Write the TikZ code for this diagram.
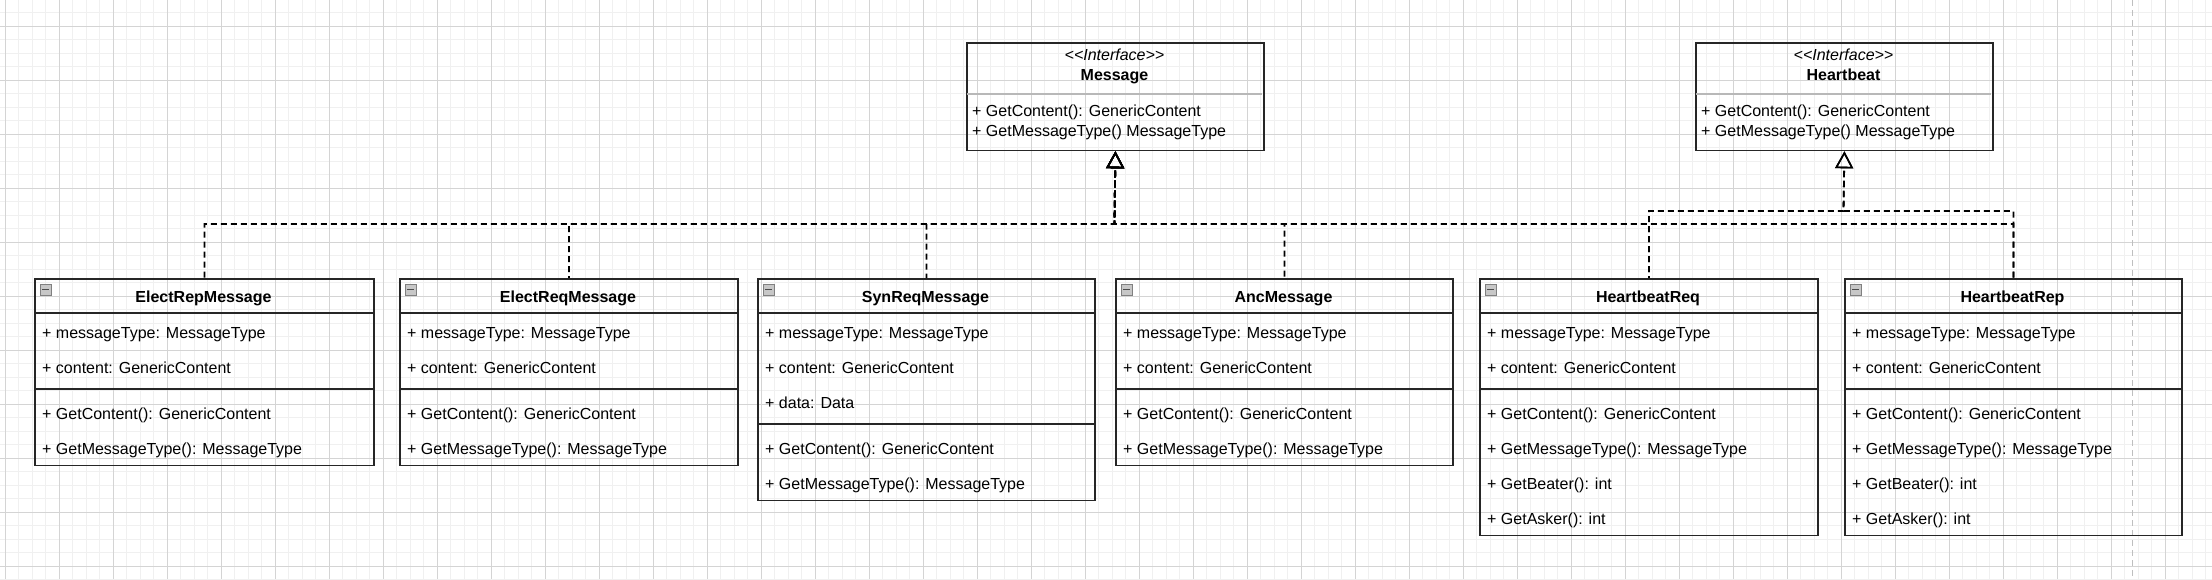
\documentclass[tikz,border=0pt]{standalone}
\usepackage{fontspec}
\setmainfont{Liberation Sans}
\usetikzlibrary{arrows.meta}
\tikzset{
  classbox/.style={draw=black!85, line width=1.8pt, fill=none, inner sep=0pt},
  boxline/.style={draw=black!85, line width=1.8pt},
  ifdiv/.style={draw=black!28, line width=2.5pt},
  titletext/.style={font=\fontsize{16}{19}\selectfont\bfseries, inner sep=0pt, text=black},
  stereotext/.style={font=\fontsize{16}{19}\selectfont\itshape, inner sep=0pt, text=black},
  membertext/.style={font=\fontsize{16}{19}\selectfont, inner sep=0pt, anchor=base west, text=black},
  iconbox/.style={draw=black!50, fill=black!22, minimum size=11pt, inner sep=0pt},
  dep/.style={draw=black, line width=1.8pt, dash pattern=on 6pt off 4pt,
    -{Triangle[open, width=18pt, length=17pt, line width=1.6pt]}},
  minorgrid/.style={draw=black!6, line width=0.8pt},
  majorgrid/.style={draw=black!17, line width=0.9pt},
  pagebreak/.style={draw=black!25, line width=1pt, dash pattern=on 6pt off 4pt}
}
% #1 name, #2 left, #3 right, #4 title, #5 number of attributes, #6 attributes, #7 number of methods, #8 methods
\newcommand{\UMLClass}[8]{%
  \pgfmathsetmacro{\divy}{313+35*#5+6}%
  \pgfmathsetmacro{\boty}{\divy+35*#7+5.5}%
  \pgfmathsetmacro{\boxh}{\boty-278}%
  \pgfmathsetmacro{\boxw}{#3-#2}%
  \pgfmathsetmacro{\cx}{(#2+#3)/2}%
  \node[classbox, minimum width=\boxw pt, minimum height=\boxh pt, anchor=north west] (#1) at (#2,278) {};
  \draw[boxline] (#2,313) -- (#3,313);
  \draw[boxline] (#2,\divy) -- (#3,\divy);
  \node[iconbox] (#1-i) at ({#2+11.5},289.5) {};
  \draw[black!70, line width=1.3pt] ([xshift=2.5pt]#1-i.west) -- ([xshift=-2.5pt]#1-i.east);
  \node[titletext, anchor=base] (#1-t) at (\cx,302) {#4};
  \foreach \t [count=\k] in {#6} {\node[membertext] (#1-a\k) at ({#2+8},{338+35*(\k-1)}) {\t};}
  \foreach \t [count=\k] in {#8} {\node[membertext] (#1-m\k) at ({#2+8},{\divy+30+35*(\k-1)}) {\t};}
}
% #1 name, #2 left, #3 right, #4 title, #5 method 1, #6 method 2
\newcommand{\UMLIface}[6]{%
  \pgfmathsetmacro{\boxw}{#3-#2}%
  \pgfmathsetmacro{\cx}{(#2+#3)/2}%
  \node[classbox, minimum width=\boxw pt, minimum height=107.5pt, anchor=north west] (#1) at (#2,42) {};
  \draw[ifdiv] ({#2+1},94) -- ({#3-1},94);
  \node[stereotext, anchor=base] (#1-s) at (\cx,60.5) {<\kern0pt<Interface>\kern0pt>};
  \node[titletext, anchor=base] (#1-t) at (\cx,80.5) {#4};
  \node[membertext] (#1-m1) at ({#2+6},116.5) {#5};
  \node[membertext] (#1-m2) at ({#2+6},136) {#6};
}
\begin{document}
\begin{tikzpicture}[x=1pt, y=-1pt]
\useasboundingbox (0,0) rectangle (2212,579);
\fill[white] (0,0) rectangle (2212,579);
% grid
\foreach \i in {0,...,165} \draw[minorgrid] ({-8.2+13.5*\i},0) -- ++(0,579);
\foreach \j in {0,...,43} \draw[minorgrid] (0,{-0.7+13.5*\j}) -- ++(2212,0);
\foreach \i in {0,...,40} \draw[majorgrid] ({5.3+54*\i},0) -- ++(0,579);
\foreach \j in {0,...,10} \draw[majorgrid] (0,{26.3+54*\j}) -- ++(2212,0);
% page break line
\coordinate (pbtop) at (2132,0);
\coordinate (pbbot) at (2132,579);
\draw[pagebreak] (pbtop) -- (pbbot);
% interfaces
\UMLIface{msg}{966}{1263}{Message}{+ GetContent(): GenericContent}{+ GetMessageType() MessageType}
\UMLIface{hb}{1695}{1992}{Heartbeat}{+ GetContent(): GenericContent}{+ GetMessageType() MessageType}
% classes
\UMLClass{er}{34}{373}{ElectRepMessage}{2}{+ messageType: MessageType, + content: GenericContent}{2}{+ GetContent(): GenericContent, + GetMessageType(): MessageType}
\UMLClass{eq}{399}{737}{ElectReqMessage}{2}{+ messageType: MessageType, + content: GenericContent}{2}{+ GetContent(): GenericContent, + GetMessageType(): MessageType}
\UMLClass{sr}{757}{1094}{SynReqMessage}{3}{+ messageType: MessageType, + content: GenericContent, + data: Data}{2}{+ GetContent(): GenericContent, + GetMessageType(): MessageType}
\UMLClass{am}{1115}{1452}{AncMessage}{2}{+ messageType: MessageType, + content: GenericContent}{2}{+ GetContent(): GenericContent, + GetMessageType(): MessageType}
\UMLClass{hq}{1479}{1817}{HeartbeatReq}{2}{+ messageType: MessageType, + content: GenericContent}{4}{+ GetContent(): GenericContent, + GetMessageType(): MessageType, + GetBeater(): int, + GetAsker(): int}
\UMLClass{hp}{1844}{2181}{HeartbeatRep}{2}{+ messageType: MessageType, + content: GenericContent}{4}{+ GetContent(): GenericContent, + GetMessageType(): MessageType, + GetBeater(): int, + GetAsker(): int}
% realization connectors (dash phases chosen so the shared horizontal run stays dashed)
\coordinate (mbar) at (1114.5,224);
\coordinate (hbar) at (1843.5,211);
\foreach \c/\xo/\dir in {er/203.5/1, eq/568/1, sr/925.5/1, am/1283.5/-1, hq/1648/-1, hp/2012.5/-1}{
  \pgfmathsetmacro{\ph}{mod(mod(ifthenelse(\dir>0, \xo-54, -48-\xo), 10)+10, 10)}
  \draw[dep, dash phase=\ph pt] (\c.north) |- (mbar) -- (msg.south);
}
\foreach \c/\xo in {hq/1648, hp/2012.5}{
  \pgfmathsetmacro{\ph}{mod(mod(-48-\xo, 10)+10, 10)}
  \draw[dep, dash phase=\ph pt] (\c.north) |- (hbar) -- (hb.south);
}
\end{tikzpicture}
\end{document}
